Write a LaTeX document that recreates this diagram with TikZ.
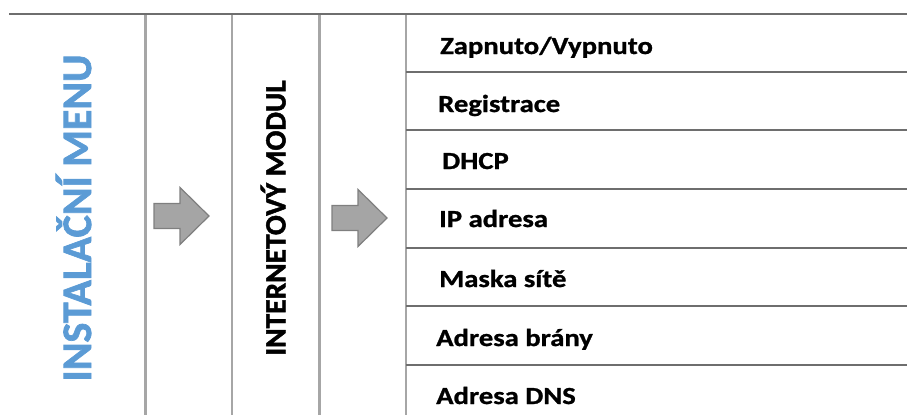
\documentclass[tikz,border=0pt]{standalone}
\usepackage{fontspec}
\setmainfont{Carlito}[BoldFeatures={FakeBold=1.6}]
\newfontfamily\rowfont{Carlito}[FakeStretch=1.17, BoldFeatures={FakeBold=1}]
\definecolor{menublue}{HTML}{5B9BD5}
\definecolor{rulegray}{HTML}{A6A6A6}
\definecolor{linegray}{HTML}{6E6E6E}
\definecolor{arrowfill}{HTML}{A5A5A5}
\definecolor{arrowedge}{HTML}{7F7F7F}

\begin{document}
\begin{tikzpicture}[
  x=1pt, y=-1pt,
  rule/.style={draw=rulegray, line width=3pt},
  thinrule/.style={draw=rulegray, line width=1.7pt},
  rowline/.style={draw=linegray, line width=2pt},
  item/.style={anchor=base west, inner sep=0pt, font=\rowfont\bfseries\fontsize{24.5}{29}\selectfont},
  blockarrow/.style={fill=arrowfill, draw=arrowedge, line width=1.2pt, line join=miter}
]
  \useasboundingbox (0,0) rectangle (907,415);

  % column rules
  \draw[rule] (145,15) -- (145,415);
  \draw[thinrule] (232,15) -- (232,415);
  \draw[rule] (319,15) -- (319,415);
  \draw[thinrule] (406,15) -- (406,415);
  \draw[draw=linegray, line width=2.3pt] (9,14) -- (907,14);

  % rows of the submenu
  \draw[rowline] (406,71.7) -- (907,71.7);
  \draw[rowline] (406,130.3) -- (907,130.3);
  \draw[rowline] (406,189) -- (907,189);
  \draw[rowline] (406,247.7) -- (907,247.7);
  \draw[rowline] (406,306.3) -- (907,306.3);
  \draw[rowline] (406,365) -- (907,365);

  % menu titles
  \node[rotate=90, anchor=base, inner sep=0pt, text=menublue,
        font=\bfseries\fontsize{42}{48}\selectfont] (menu) at (91,218) {INSTALAČNÍ MENU};
  \node[rotate=90, anchor=base, inner sep=0pt,
        font=\bfseries\fontsize{29.5}{34}\selectfont] (modul) at (285.5,218) {INTERNETOVÝ MODUL};

  % arrows
  \draw[blockarrow] (154,203.5) -- (180,203.5) -- (180,187.5) -- (209,216)
    -- (180,244.5) -- (180,228.5) -- (154,228.5) -- cycle;
  \draw[blockarrow] (332,205.5) -- (358,205.5) -- (358,189.5) -- (387,218)
    -- (358,246.5) -- (358,230.5) -- (332,230.5) -- cycle;

  % items
  \node[item] (onoff) at (440,54) {Zapnuto/Vypnuto};
  \node[item] (reg) at (438,112) {Registrace};
  \node[item] (dhcp) at (442,169) {DHCP};
  \node[item] (ip) at (439,227) {IP adresa};
  \node[item] (mask) at (439,287) {Maska sítě};
  \node[item] (gate) at (436,346) {Adresa brány};
  \node[item] (dns) at (436,404) {Adresa DNS};
\end{tikzpicture}
\end{document}
